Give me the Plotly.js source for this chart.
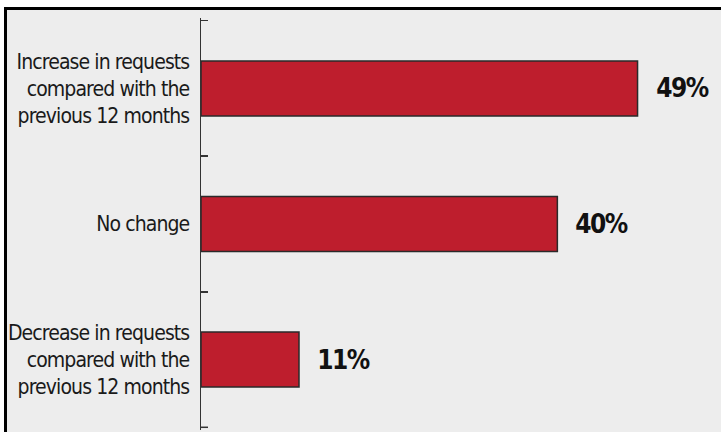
<!DOCTYPE html>
<html>
<head>
<meta charset="utf-8">
<script src="https://cdn.plot.ly/plotly-3.0.1.min.js"></script>
<style>
  html, body { margin: 0; padding: 0; background: #ffffff; width: 721px; height: 432px; overflow: hidden; }
  #frameTop { position: absolute; left: 4px; top: 7px; width: 717px; height: 3px; background: #000; }
  #frameLeft { position: absolute; left: 4px; top: 7px; width: 3px; height: 425px; background: #000; }
  #chart { position: absolute; left: 7px; top: 10px; width: 714px; height: 422px; background: #ededed; }
  #chart text { font-stretch: condensed; }
  #chart .ytick text { letter-spacing: -0.9px; }
  #chart .annotation-text { letter-spacing: -1.5px; }
</style>
</head>
<body>
<div id="frameTop"></div>
<div id="frameLeft"></div>
<div id="chart"></div>
<script>
const categories = [
  "Increase in requests<br>compared with the<br>previous 12 months",
  "No change",
  "Decrease in requests<br>compared with the<br>previous 12 months"
];
const values = [49, 40, 11];
const valueLabels = ["49%", "40%", "11%"];

const FONT = "Liberation Sans Narrow, DejaVu Sans Condensed, DejaVu Sans, sans-serif";

const trace = {
  type: "bar",
  orientation: "h",
  x: values,
  y: categories,
  marker: { color: "#be1e2d", line: { color: "#2a2a2a", width: 1.5 } },
  hoverinfo: "none"
};

const annotations = values.map((v, i) => ({
  x: v, y: categories[i], xref: "x", yref: "y",
  text: "<b>" + valueLabels[i] + "</b>",
  showarrow: false, xanchor: "left", yanchor: "middle", xshift: 14,
  font: { family: FONT, size: 26, color: "#111111" }
}));

// closing boundary tick at the bottom end of the category axis
const lastBoundary = categories.length - 0.5;
const shapes = [{
  type: "line", xref: "paper", yref: "y",
  x0: 0, x1: 7 / 490, y0: lastBoundary, y1: lastBoundary,
  line: { color: "#333333", width: 1.5 }
}];

const layout = {
  width: 714, height: 422,
  margin: { l: 194, r: 30, t: 8, b: 2, pad: 0 },
  paper_bgcolor: "#ededed",
  plot_bgcolor: "#ededed",
  showlegend: false,
  bargap: 0.594,
  xaxis: { range: [0, 55], visible: false, fixedrange: true },
  yaxis: {
    type: "category",
    range: [2.52, -0.52],
    showline: true, linecolor: "#333333", linewidth: 1.5,
    ticks: "inside", tickson: "boundaries", ticklen: 7, tickwidth: 1.5, tickcolor: "#333333",
    showgrid: false, zeroline: false,
    ticklabelstandoff: 6,
    tickfont: { family: FONT, size: 21, color: "#1a1a1a" }
  },
  shapes: shapes,
  annotations: annotations,
  font: { family: FONT }
};

Plotly.newPlot("chart", [trace], layout, { displayModeBar: false, staticPlot: true });
</script>
</body>
</html>
